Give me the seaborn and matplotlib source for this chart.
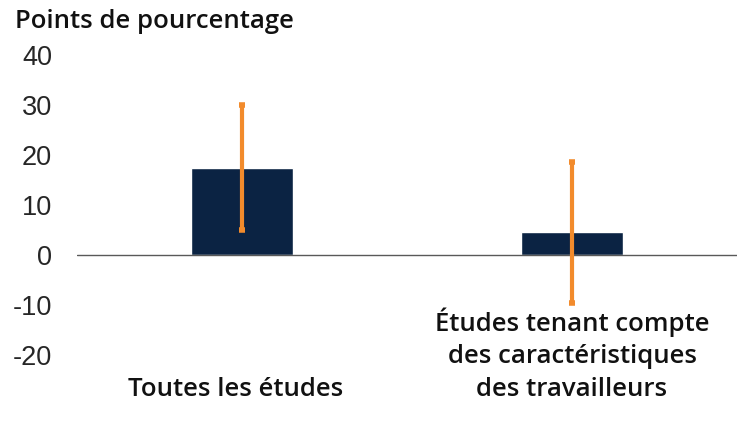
import numpy as np
import pandas as pd
import seaborn as sns
import matplotlib.pyplot as plt

categories = ["Toutes les études",
              "Études tenant compte\ndes caractéristiques\ndes travailleurs"]
effects = [17.4, 4.6]
ci_low = [5.0, -9.6]
ci_high = [30.0, 18.7]
yticks = [-20, -10, 0, 10, 20, 30, 40]

navy = "#0b2343"
orange = "#f28b2c"
txt_font = ["Open Sans", "DejaVu Sans"]

sns.set_style("white")
plt.rcParams["font.family"] = ["Liberation Sans", "DejaVu Sans"]

df = pd.DataFrame({"cat": categories, "val": effects})

fig = plt.figure(figsize=(7.5, 4.38), dpi=100)
ax = fig.add_axes([0.1027, 0.0753, 0.88, 0.7991])

sns.barplot(data=df, x="cat", y="val", color=navy, width=0.31,
            saturation=1, errorbar=None, ax=ax)

pos = np.arange(len(categories))
lo = np.array(effects) - np.array(ci_low)
hi = np.array(ci_high) - np.array(effects)
ax.errorbar(pos, effects, yerr=[lo, hi], fmt="none", ecolor=orange,
            elinewidth=3, capsize=2, capthick=4, zorder=3)

ax.axhline(0, color="#595959", lw=1, zorder=1)

ax.set_xlim(-0.5, 1.5)
ax.set_ylim(-30, 40)
ax.set_yticks(yticks)
ax.set_yticklabels([str(t) for t in yticks], fontsize=19.5)
ax.tick_params(axis="y", length=0, pad=18)

ax.set_xticks([])
ax.set_xlabel("")
ax.set_ylabel("")
for s in ax.spines.values():
    s.set_visible(False)

for i, c in enumerate(categories):
    ax.text(i - 0.02 * (i == 0), -29.4, c, ha="center", va="bottom",
            fontsize=18.5, fontweight="semibold", family=txt_font,
            linespacing=1.4, color="#111111")

fig.text(0.02, 0.95, "Points de pourcentage", ha="left", va="center",
         fontsize=18.5, fontweight="semibold", family=txt_font,
         color="#111111")

fig.savefig("out.png", dpi=100, facecolor="white")
